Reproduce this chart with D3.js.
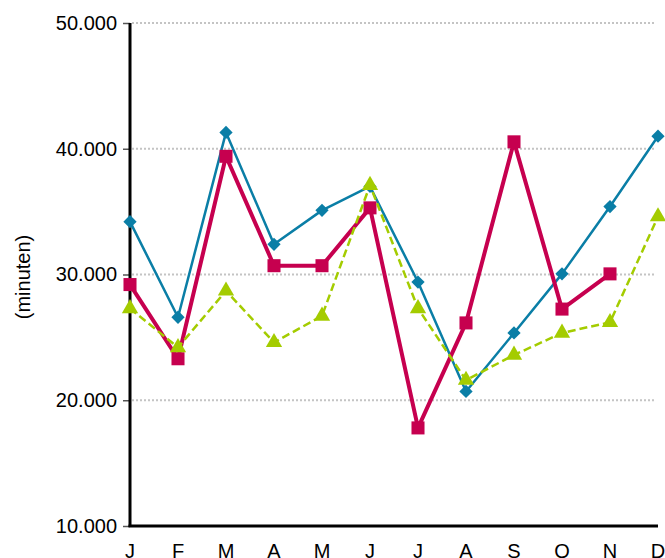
<!DOCTYPE html>
<html>
<head>
<meta charset="utf-8">
<script src="https://cdn.jsdelivr.net/npm/d3@7"></script>
<style>
  body { margin: 0; background: #fff; }
  svg text { font-family: "Liberation Sans", Arial, sans-serif; fill: #000; }
</style>
</head>
<body>
<svg id="chart" width="665" height="558"></svg>
<script>
// data
var months = ["J", "F", "M", "A", "M", "J", "J", "A", "S", "O", "N", "D"];
var yTicks = [10000, 20000, 30000, 40000, 50000];
var blueValues = [34200, 26600, 41300, 32400, 35100, 37000, 29400, 20700, 25350, 30050, 35400, 41000];
var redValues = [29200, 23300, 39400, 30700, 30700, 35300, 17800, 26150, 40550, 27250, 30050, null];
var greenValues = [27300, 24200, 28700, 24600, 26700, 37100, 27300, 21600, 23600, 25350, 26200, 34600];

var svg = d3.select("#chart");
var margin = {left: 130, right: 7, top: 23, bottom: 32};
var width = 665 - margin.left - margin.right,
    height = 558 - margin.top - margin.bottom;

var g = svg.append("g")
    .attr("transform", "translate(" + margin.left + "," + margin.top + ")");

var x = d3.scalePoint().domain(d3.range(months.length)).range([0, 528]);
var y = d3.scaleLinear().domain([10000, 50000]).range([height, 0]);

var fmt = function(d) { return d3.format(",")(d).replace(/,/g, "."); };

// gridlines
g.append("g")
    .selectAll("line")
    .data(yTicks.filter(function(d) { return d > 10000; }))
    .enter().append("line")
    .attr("x1", 2).attr("x2", 526)
    .attr("y1", function(d) { return y(d); })
    .attr("y2", function(d) { return y(d); })
    .attr("stroke", "#c4c4c4")
    .attr("stroke-width", 2)
    .attr("stroke-dasharray", "2,2");

// y axis
var yAxis = g.append("g")
    .call(d3.axisLeft(y).tickValues(yTicks).tickFormat(fmt).tickSize(7).tickPadding(6));
yAxis.select(".domain").remove();
yAxis.selectAll(".tick line").attr("stroke", "#555").attr("stroke-width", 1.5);
yAxis.selectAll(".tick text").style("font-size", "20px");

g.append("line")
    .attr("x1", 0).attr("x2", 0).attr("y1", 0).attr("y2", height + 1)
    .attr("stroke", "#000").attr("stroke-width", 3);
g.append("line")
    .attr("x1", -1.5).attr("x2", 528).attr("y1", height).attr("y2", height)
    .attr("stroke", "#000").attr("stroke-width", 3);

// x axis labels
g.append("g")
    .selectAll("text")
    .data(months)
    .enter().append("text")
    .attr("x", function(d, i) { return x(i); })
    .attr("y", height + 32)
    .attr("text-anchor", "middle")
    .style("font-size", "20px")
    .text(function(d) { return d; });

// y label
svg.append("text")
    .attr("transform", "translate(30,277) rotate(-90)")
    .attr("text-anchor", "middle")
    .style("font-size", "20px")
    .text("(minuten)");

function drawSeries(values, color, lineWidth, dash, symbolType, symbolSize, rotate) {
  var pts = values.map(function(v, i) { return {i: i, v: v}; })
      .filter(function(d) { return d.v != null; });
  var line = d3.line()
      .x(function(d) { return x(d.i); })
      .y(function(d) { return y(d.v); });
  g.append("path")
      .datum(pts)
      .attr("d", line)
      .attr("fill", "none")
      .attr("stroke", color)
      .attr("stroke-width", lineWidth)
      .attr("stroke-dasharray", dash)
      .attr("stroke-linejoin", "round");
  g.append("g")
      .selectAll("path")
      .data(pts)
      .enter().append("path")
      .attr("d", d3.symbol().type(symbolType).size(symbolSize))
      .attr("transform", function(d) {
        return "translate(" + x(d.i) + "," + y(d.v) + ")" + (rotate ? " rotate(45)" : "");
      })
      .attr("fill", color);
}

drawSeries(blueValues, "#0a7ea6", 2.5, null, d3.symbolSquare, 88, true);
drawSeries(redValues, "#c6004f", 4, null, d3.symbolSquare, 170, false);
drawSeries(greenValues, "#a4cc00", 2.5, "8,4", d3.symbolTriangle, 115, false);
</script>
</body>
</html>
